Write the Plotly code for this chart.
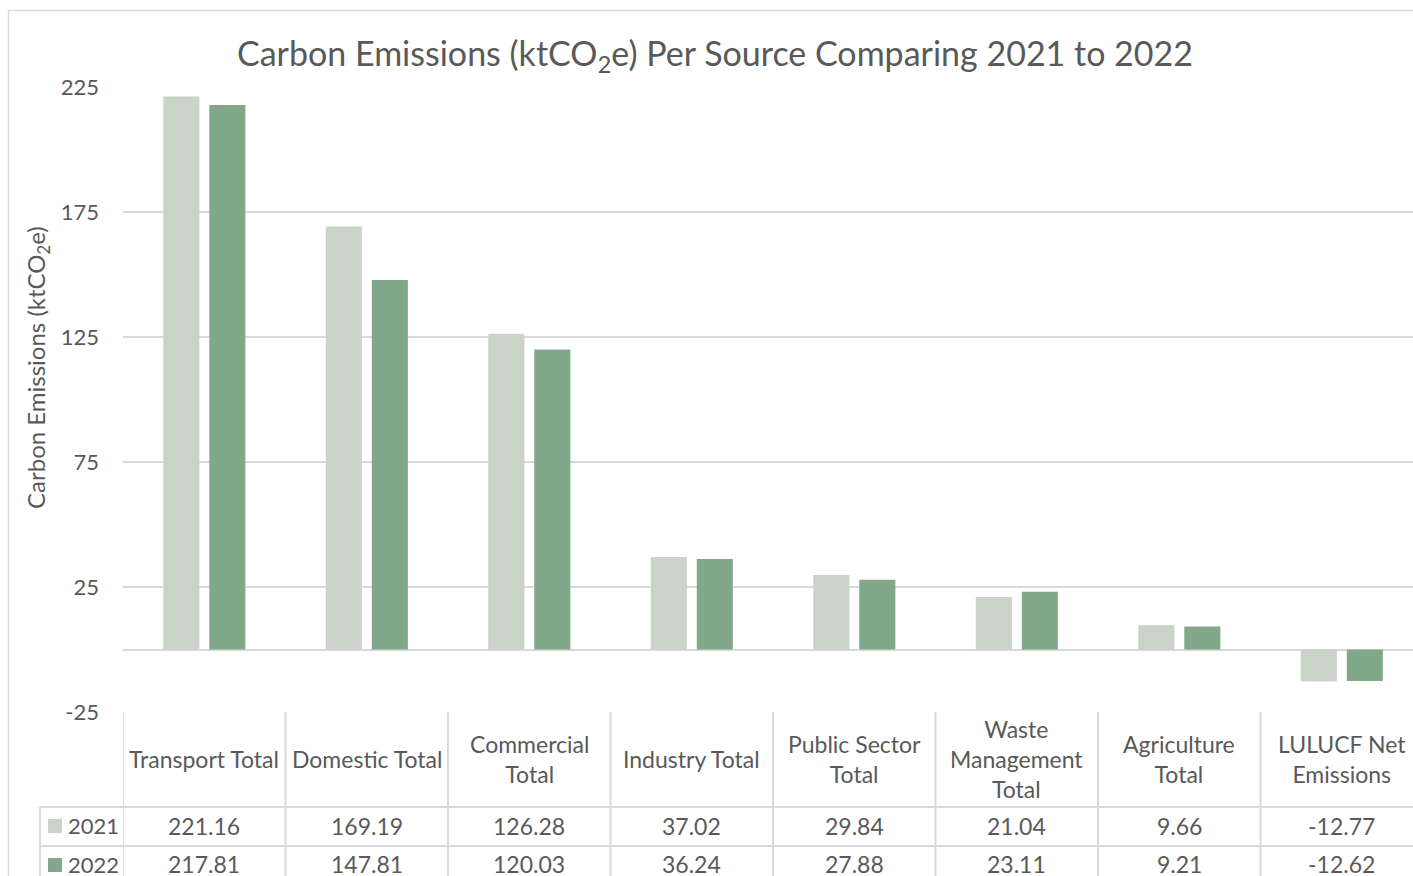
import plotly.graph_objects as go

categories = ["Transport Total", "Domestic Total", "Commercial Total", "Industry Total",
              "Public Sector Total", "Waste Management Total", "Agriculture Total", "LULUCF Net Emissions"]
header_labels = ["Transport Total", "Domestic Total", "Commercial<br>Total", "Industry Total",
                 "Public Sector<br>Total", "Waste<br>Management<br>Total", "Agriculture<br>Total",
                 "LULUCF Net<br>Emissions"]
series_names = ["2021", "2022"]
values_2021 = [221.16, 169.19, 126.28, 37.02, 29.84, 21.04, 9.66, -12.77]
values_2022 = [217.81, 147.81, 120.03, 36.24, 27.88, 23.11, 9.21, -12.62]
y_ticks = [-25, 25, 75, 125, 175, 225]

colors = ["#C9D3C7", "#81A88B"]
TXT = "#595959"
GRID = "#D9D9D9"
FONT = "Lato"
TS = 23  # table font size

W, H = 1413, 876
L, T, B = 123, 87, 712  # plot area pixel edges
PW, PH = W - L, B - T


def px_x(px):
    return (px - L) / PW


def px_y(py):
    return (B - py) / PH


fig = go.Figure()
idx = list(range(len(categories)))
fig.add_trace(go.Bar(x=idx, y=values_2021, name="2021", marker_color=colors[0],
                     width=0.222, offset=-0.252, marker_line_width=0, hoverinfo="skip"))
fig.add_trace(go.Bar(x=idx, y=values_2022, name="2022", marker_color=colors[1],
                     width=0.222, offset=0.031, marker_line_width=0, hoverinfo="skip"))

shapes = []
annotations = []

# outer chart border
shapes.append(dict(type="rect", xref="paper", yref="paper", x0=px_x(8.5), x1=1.2,
                   y0=-2, y1=px_y(10.5), line=dict(color=GRID, width=1.5), fillcolor="rgba(0,0,0,0)"))

# table horizontal lines
for py, x0 in [(807, 40), (846, 40)]:
    shapes.append(dict(type="line", xref="paper", yref="paper", x0=px_x(x0), x1=1.2,
                       y0=px_y(py), y1=px_y(py), line=dict(color=GRID, width=2)))
# vertical lines
shapes.append(dict(type="line", xref="paper", yref="paper", x0=px_x(40), x1=px_x(40),
                   y0=px_y(807), y1=-2, line=dict(color=GRID, width=2)))
for i in range(len(categories)):
    shapes.append(dict(type="line", xref="x", yref="paper", x0=i - 0.5, x1=i - 0.5,
                       y0=0, y1=-2, line=dict(color=GRID, width=2)))

# header labels
for i, lab in enumerate(header_labels):
    annotations.append(dict(x=i, xref="x", y=px_y(759), yref="paper", text=lab, showarrow=False,
                            font=dict(family=FONT, size=TS, color=TXT), yanchor="middle",
                            xanchor="center", align="center"))
# values rows
for vals, py in [(values_2021, 826), (values_2022, 864)]:
    for i, v in enumerate(vals):
        annotations.append(dict(x=i, xref="x", y=px_y(py), yref="paper", text=f"{v:.2f}",
                                showarrow=False, font=dict(family=FONT, size=TS, color=TXT),
                                yanchor="middle", xanchor="center"))
# legend keys
for name, col, py in zip(series_names, colors, [826, 865]):
    shapes.append(dict(type="rect", xref="paper", yref="paper", x0=px_x(48), x1=px_x(62),
                       y0=px_y(py + 7), y1=px_y(py - 7), fillcolor=col, line=dict(width=0)))
    annotations.append(dict(x=px_x(66), xref="paper", y=px_y(py), yref="paper", text=name,
                            showarrow=False, font=dict(family=FONT, size=22, color=TXT),
                            xanchor="left", yanchor="middle"))

# title
annotations.append(dict(x=px_x(715), xref="paper", y=px_y(55), yref="paper",
                        text="Carbon Emissions (ktCO<sub>2</sub>e) Per Source Comparing 2021 to 2022",
                        showarrow=False, font=dict(family=FONT, size=34, color=TXT),
                        xanchor="center", yanchor="middle"))
# y axis title
annotations.append(dict(x=px_x(38), xref="paper", y=px_y(367), yref="paper",
                        text="Carbon Emissions (ktCO<sub>2</sub>e)", textangle=-90,
                        showarrow=False, font=dict(family=FONT, size=24, color=TXT),
                        xanchor="center", yanchor="middle"))

fig.update_layout(
    width=W, height=H, autosize=False,
    margin=dict(l=L, r=0, t=T, b=H - B, pad=0),
    paper_bgcolor="white", plot_bgcolor="white",
    showlegend=False, hovermode=False,
    shapes=shapes, annotations=annotations,
    xaxis=dict(range=[-0.5, -0.5 + PW / 162.5], showticklabels=False, showgrid=False,
               zeroline=False, showline=False, ticks=""),
    yaxis=dict(range=[-25, 225], tickvals=y_ticks, ticktext=[str(t) for t in y_ticks],
               showgrid=True, gridcolor=GRID, gridwidth=2, zeroline=True,
               zerolinecolor=GRID, zerolinewidth=2, showline=False, ticks="",
               ticklabelstandoff=23, tickfont=dict(family=FONT, size=22, color=TXT)),
)

fig.write_html("out.html", config={"displayModeBar": False},
               post_script="document.body.style.margin='0';document.body.style.overflow='hidden';")
